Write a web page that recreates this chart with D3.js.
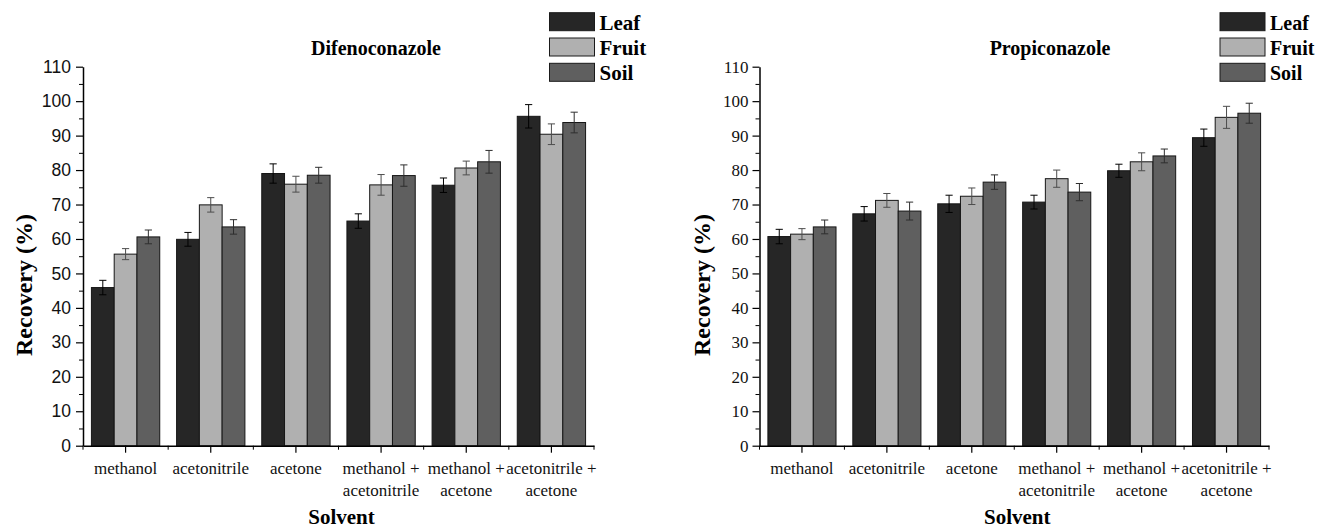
<!DOCTYPE html>
<html>
<head>
<meta charset="utf-8">
<script src="https://cdn.jsdelivr.net/npm/d3@7"></script>
<style>
  body { margin: 0; background: #fff; }
  svg { display: block; }
</style>
</head>
<body>
<svg id="chart" width="1317" height="529"></svg>
<script>
// solvents on the x axis, split into label lines
var solvents = ['methanol', 'acetonitrile', 'acetone',
    'methanol + acetonitrile', 'methanol + acetone', 'acetonitrile + acetone'];
var solventLines = [['methanol'], ['acetonitrile'], ['acetone'],
    ['methanol +', 'acetonitrile'], ['methanol +', 'acetone'], ['acetonitrile +', 'acetone']];
var matrices = ['Leaf', 'Fruit', 'Soil'];
var yTicks = [0, 10, 20, 30, 40, 50, 60, 70, 80, 90, 100, 110];

// Difenoconazole recovery (%) and error
var difLeaf = [45.9, 59.9, 79.0, 65.2, 75.6, 95.6];
var difFruit = [55.6, 69.9, 75.9, 75.7, 80.6, 90.4];
var difSoil = [60.6, 63.5, 78.5, 78.4, 82.4, 93.8];
var difLeafErr = [2.1, 2.0, 2.8, 2.1, 2.1, 3.4];
var difFruitErr = [1.6, 2.1, 2.3, 3.0, 2.0, 3.0];
var difSoilErr = [2.0, 2.1, 2.3, 3.1, 3.3, 3.0];

// Propiconazole recovery (%) and error
var proLeaf = [60.7, 67.3, 70.2, 70.7, 79.8, 89.4];
var proFruit = [61.4, 71.2, 72.4, 77.5, 82.4, 95.3];
var proSoil = [63.5, 68.1, 76.5, 73.6, 84.1, 96.5];
var proLeafErr = [2.1, 2.1, 2.5, 2.0, 1.9, 2.5];
var proFruitErr = [1.6, 2.0, 2.4, 2.5, 2.6, 3.2];
var proSoilErr = [2.0, 2.6, 2.1, 2.5, 2.0, 2.9];

var fills = {Leaf: '#262626', Fruit: '#b0b0b0', Soil: '#5f5f5f'};
var errColors = {Leaf: '#000', Fruit: '#4d4d4d', Soil: '#2e2e2e'};
var serif = 'Liberation Serif, Times New Roman, serif';
var sans = 'Liberation Sans, Arial, sans-serif';

var svg = d3.select('#chart');

function drawPanel(cfg) {
    var g = svg.append('g');

    var x = d3.scaleBand().domain(solvents).range([cfg.x0, cfg.x1]).padding(0);
    var sub = d3.scaleBand().domain(matrices).range([0, x.bandwidth()])
        .paddingInner(0).paddingOuter(0.37);
    var y = d3.scaleLinear().domain([0, 110]).range([445.7, 66.7]);

    var rows = [];
    solvents.forEach(function (s, i) {
        matrices.forEach(function (m) {
            rows.push({solvent: s, matrix: m, value: cfg.values[m][i], err: cfg.errors[m][i]});
        });
    });

    // bars
    g.selectAll('.bar')
        .data(rows)
      .enter().append('rect')
        .attr('class', 'bar')
        .attr('x', function (d) { return x(d.solvent) + sub(d.matrix); })
        .attr('y', function (d) { return y(d.value); })
        .attr('width', sub.bandwidth())
        .attr('height', function (d) { return y(0) - y(d.value); })
        .attr('fill', function (d) { return fills[d.matrix]; })
        .attr('stroke', '#161616')
        .attr('stroke-width', 1);

    // error bars
    var eb = g.selectAll('.err')
        .data(rows)
      .enter().append('g')
        .attr('class', 'err')
        .attr('stroke', function (d) { return errColors[d.matrix]; })
        .attr('stroke-width', 1)
        .attr('transform', function (d) {
            return 'translate(' + (x(d.solvent) + sub(d.matrix) + sub.bandwidth() / 2) + ',0)';
        });
    eb.append('line')
        .attr('y1', function (d) { return y(d.value + d.err); })
        .attr('y2', function (d) { return y(d.value - d.err); });
    eb.append('line')
        .attr('x1', -3.6).attr('x2', 3.6)
        .attr('y1', function (d) { return y(d.value + d.err); })
        .attr('y2', function (d) { return y(d.value + d.err); });
    eb.append('line')
        .attr('x1', -3.6).attr('x2', 3.6)
        .attr('y1', function (d) { return y(d.value - d.err); })
        .attr('y2', function (d) { return y(d.value - d.err); });

    // y axis
    var yAxis = g.append('g')
        .attr('transform', 'translate(' + cfg.x0 + ',0)')
        .call(d3.axisLeft(y).tickValues(yTicks).tickSize(7).tickSizeOuter(0).tickPadding(cfg.tickPad));
    yAxis.attr('font-family', cfg.tickFont).attr('font-size', cfg.tickSize);
    yAxis.selectAll('text').attr('fill', '#111');
    g.append('g')
        .attr('transform', 'translate(' + cfg.x0 + ',0)')
        .call(d3.axisLeft(y).tickValues(d3.range(5, 110, 10)).tickSize(4).tickFormat(''))
        .select('.domain').remove();

    // x axis
    var xAxis = g.append('g')
        .attr('transform', 'translate(0,' + y(0) + ')')
        .call(d3.axisBottom(x).tickSize(7).tickSizeOuter(0).tickFormat(''));
    xAxis.selectAll('.boundary')
        .data(solvents.map(function (s) { return x(s); }).concat([cfg.x1]))
      .enter().append('line')
        .attr('class', 'boundary')
        .attr('x1', function (d) { return d; })
        .attr('x2', function (d) { return d; })
        .attr('y1', 0).attr('y2', 4)
        .attr('stroke', '#000');

    [yAxis, xAxis].forEach(function (a) {
        a.select('.domain').attr('stroke', '#000').attr('stroke-width', 1.5);
        a.selectAll('.tick line').attr('stroke', '#000').attr('stroke-width', 1.2);
    });

    // category labels
    var lab = g.selectAll('.cat')
        .data(solvents)
      .enter().append('text')
        .attr('class', 'cat')
        .attr('text-anchor', 'middle')
        .attr('font-family', serif)
        .attr('font-size', 17)
        .attr('fill', '#111')
        .attr('transform', function (d) {
            return 'translate(' + (x(d) + x.bandwidth() / 2) + ',' + (y(0) + 28) + ')';
        });
    lab.selectAll('tspan')
        .data(function (d, i) { return solventLines[i]; })
      .enter().append('tspan')
        .attr('x', 0)
        .attr('dy', function (d, i) { return i === 0 ? 0 : 22; })
        .text(function (d) { return d; });

    // axis titles
    g.append('text')
        .attr('x', (cfg.x0 + cfg.x1) / 2 + 3)
        .attr('y', 524)
        .attr('text-anchor', 'middle')
        .attr('font-family', serif)
        .attr('font-weight', 'bold')
        .attr('font-size', 21)
        .text('Solvent');
    g.append('text')
        .attr('transform', 'translate(' + cfg.yLabelX + ',285) rotate(-90)')
        .attr('text-anchor', 'middle')
        .attr('font-family', serif)
        .attr('font-weight', 'bold')
        .attr('font-size', 24)
        .text('Recovery (%)');

    // chart title
    g.append('text')
        .attr('x', cfg.titleX)
        .attr('y', 55)
        .attr('text-anchor', 'middle')
        .attr('font-family', serif)
        .attr('font-weight', 'bold')
        .attr('font-size', 20)
        .text(cfg.title);

    // legend
    var leg = g.selectAll('.entry')
        .data(matrices)
      .enter().append('g')
        .attr('class', 'entry')
        .attr('transform', function (d, i) {
            return 'translate(' + cfg.legendX + ',' + (12.7 + 25.3 * i) + ')';
        });
    leg.append('rect')
        .attr('width', 45)
        .attr('height', 18)
        .attr('fill', function (d) { return fills[d]; })
        .attr('stroke', '#1a1a1a')
        .attr('stroke-width', 1);
    leg.append('text')
        .attr('x', 50)
        .attr('y', 17)
        .attr('font-family', serif)
        .attr('font-weight', 'bold')
        .attr('font-size', cfg.legendSize)
        .text(function (d) { return d; });
}

drawPanel({
    x0: 83, x1: 594,
    title: 'Difenoconazole', titleX: 376,
    yLabelX: 32, legendX: 549.5, legendSize: 21,
    tickFont: sans, tickSize: 17.5, tickPad: 5,
    values: {Leaf: difLeaf, Fruit: difFruit, Soil: difSoil},
    errors: {Leaf: difLeafErr, Fruit: difFruitErr, Soil: difSoilErr}
});

drawPanel({
    x0: 759.5, x1: 1269,
    title: 'Propiconazole', titleX: 1050,
    yLabelX: 710, legendX: 1220, legendSize: 20,
    tickFont: serif, tickSize: 17, tickPad: 4,
    values: {Leaf: proLeaf, Fruit: proFruit, Soil: proSoil},
    errors: {Leaf: proLeafErr, Fruit: proFruitErr, Soil: proSoilErr}
});
</script>
</body>
</html>
